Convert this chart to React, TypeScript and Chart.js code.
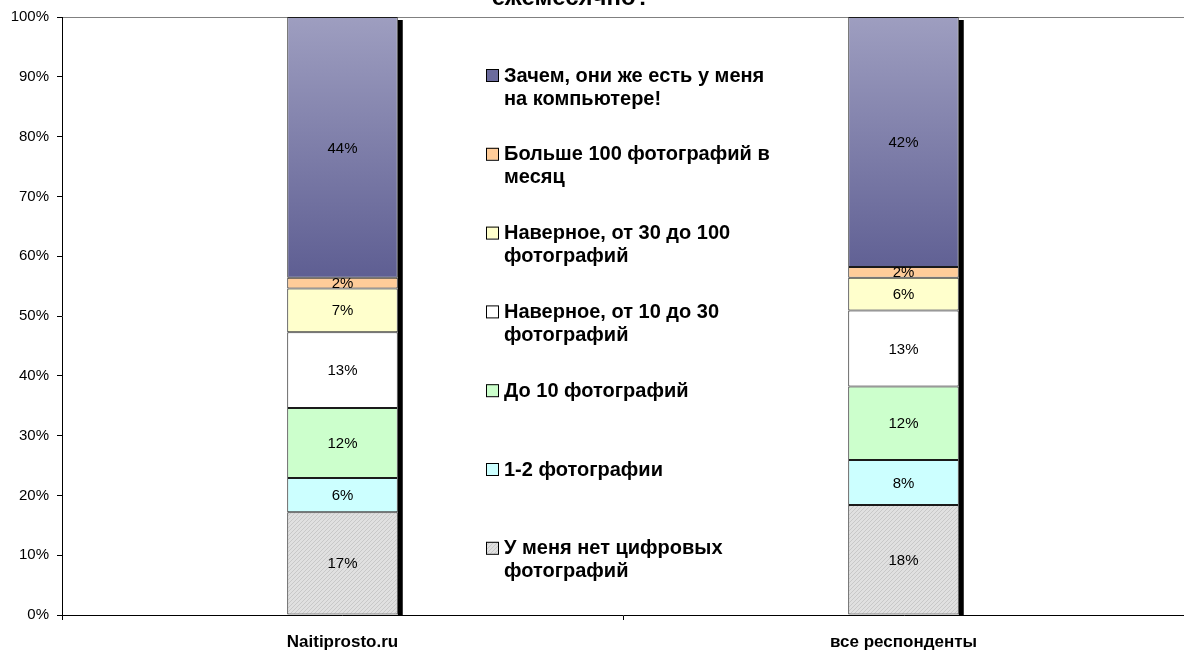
import React, { useEffect, useRef } from "react";
import { Chart, registerables } from "chart.js";
Chart.register(...registerables);

const categories = ["Naitiprosto.ru", "все респонденты"];
const titleText = "ежемесячно?";
const seriesLabels: string[][] = [
  ["У меня нет цифровых", "фотографий"],
  ["1-2 фотографии"],
  ["До 10 фотографий"],
  ["Наверное, от 10 до 30", "фотографий"],
  ["Наверное, от 30 до 100", "фотографий"],
  ["Больше 100 фотографий в", "месяц"],
  ["Зачем, они же есть у меня", "на компьютере!"],
];
const noPhotos = [17.2, 18.4];
const oneTwo = [5.7, 7.5];
const upTo10 = [11.7, 12.3];
const from10to30 = [12.7, 12.7];
const from30to100 = [7.3, 5.5];
const over100 = [1.8, 1.8];
const onComputer = [43.6, 41.8];
const seriesValues = [noPhotos, oneTwo, upTo10, from10to30, from30to100, over100, onComputer];
const seriesColors = ["#dcdcdc", "#ccffff", "#ccffcc", "#ffffff", "#ffffcc", "#ffcc99", "#6b6b9d"];

const FONT = "'Liberation Sans', Arial, sans-serif";

function makeHatch(ctx: CanvasRenderingContext2D) {
  const c = document.createElement("canvas");
  c.width = 4;
  c.height = 4;
  const g = c.getContext("2d")!;
  g.fillStyle = "#e0e0e0";
  g.fillRect(0, 0, 4, 4);
  g.fillStyle = "#c8c8c8";
  for (let i = 0; i < 4; i++) g.fillRect(i, 3 - i, 1, 1);
  return ctx.createPattern(c, "repeat");
}

export default function App() {
  const ref = useRef<HTMLCanvasElement | null>(null);
  useEffect(() => {
    const canvas = ref.current!;
    const ctx0 = canvas.getContext("2d")!;
    const hatch = makeHatch(ctx0);
    const topIdx = seriesValues.length - 1;

    const datasets = seriesValues.map((vals, i) => ({
      label: seriesLabels[i].join("\n"),
      data: vals,
      backgroundColor:
        i === 0
          ? hatch
          : i === topIdx
          ? (c: any) => {
              const chart = c.chart;
              const area = chart.chartArea;
              if (!area) return seriesColors[i];
              const g = chart.ctx.createLinearGradient(0, area.top, 0, chart.scales.y.getPixelForValue(57));
              g.addColorStop(0, "#9e9ec0");
              g.addColorStop(1, "#5f5f93");
              return g;
            }
          : seriesColors[i],
      borderColor: "#1a1a1a",
      borderWidth: 1,
      borderSkipped: false,
      categoryPercentage: 1,
      barPercentage: 0.197,
    }));

    const framePlugin = {
      id: "frame",
      beforeDraw(chart: any) {
        const { ctx, chartArea, width, height } = chart;
        ctx.save();
        ctx.fillStyle = "#fff";
        ctx.fillRect(0, 0, width, height);
        ctx.strokeStyle = "#808080";
        ctx.lineWidth = 1;
        ctx.beginPath();
        ctx.moveTo(chartArea.left, chartArea.top + 0.5);
        ctx.lineTo(chartArea.right, chartArea.top + 0.5);
        ctx.stroke();
        ctx.restore();
      },
    };

    const shadowPlugin = {
      id: "shadow",
      beforeDatasetsDraw(chart: any) {
        const { ctx } = chart;
        const meta = chart.getDatasetMeta(topIdx);
        const bottom = chart.scales.y.getPixelForValue(0);
        ctx.save();
        ctx.fillStyle = "#000";
        meta.data.forEach((el: any) => {
          const p = el.getProps(["x", "y", "width"], true);
          const x = p.x + p.width / 2;
          ctx.fillRect(x, p.y + 3, 5, bottom - p.y - 3);
        });
        ctx.restore();
      },
    };

    const labelPlugin = {
      id: "vlabels",
      afterDatasetsDraw(chart: any) {
        const { ctx } = chart;
        ctx.save();
        ctx.font = `15px ${FONT}`;
        ctx.fillStyle = "#000";
        ctx.textAlign = "center";
        ctx.textBaseline = "middle";
        chart.data.datasets.forEach((ds: any, di: number) => {
          const meta = chart.getDatasetMeta(di);
          meta.data.forEach((el: any, i: number) => {
            const p = el.getProps(["x", "y", "base"], true);
            ctx.fillText(Math.round(ds.data[i]) + "%", p.x, (p.y + p.base) / 2 + 1);
          });
        });
        ctx.restore();
      },
    };

    const legendPlugin = {
      id: "customLegend",
      afterDraw(chart: any) {
        const { ctx } = chart;
        const x0 = 486;
        const y0 = 75;
        const step = 78.8;
        const lineH = 23;
        ctx.save();
        ctx.font = `bold 20px ${FONT}`;
        ctx.textBaseline = "middle";
        ctx.textAlign = "left";
        const n = chart.data.datasets.length;
        for (let k = 0; k < n; k++) {
          const di = n - 1 - k;
          const ds = chart.data.datasets[di];
          const y = y0 + k * step;
          ctx.fillStyle = di === 0 ? hatch : seriesColors[di];
          ctx.fillRect(x0, y - 6, 12, 12);
          ctx.strokeStyle = "#000";
          ctx.lineWidth = 1;
          ctx.strokeRect(x0 + 0.5, y - 6 + 0.5, 12, 12);
          ctx.fillStyle = "#000";
          String(ds.label)
            .split("\n")
            .forEach((line: string, li: number) => {
              ctx.fillText(line, x0 + 18, y + li * lineH + 1);
            });
        }
        ctx.restore();
      },
    };

    const titlePlugin = {
      id: "cutTitle",
      afterDraw(chart: any) {
        const { ctx } = chart;
        ctx.save();
        ctx.font = `bold 24px ${FONT}`;
        ctx.fillStyle = "#000";
        ctx.textAlign = "center";
        ctx.textBaseline = "alphabetic";
        ctx.fillText(titleText, 571, 5);
        ctx.restore();
      },
    };

    const chart = new Chart(canvas, {
      type: "bar",
      data: { labels: categories, datasets: datasets as any },
      options: {
        responsive: false,
        animation: false,
        devicePixelRatio: 1,
        layout: { padding: { left: 0, top: 15, right: 0, bottom: 0 } },
        plugins: { legend: { display: false }, tooltip: { enabled: false }, title: { display: false } },
        scales: {
          x: {
            stacked: true,
            offset: true,
            grid: { offset: true, drawOnChartArea: false, drawTicks: true, tickLength: 5, color: "#000" },
            border: { display: true, color: "#000", width: 1 },
            ticks: { color: "#000", font: { family: FONT, size: 17, weight: "bold" }, padding: 12 },
            afterFit: (s: any) => {
              s.height = 37;
            },
          },
          y: {
            stacked: true,
            min: 0,
            max: 100,
            grid: { drawOnChartArea: false, drawTicks: true, tickLength: 5, color: "#000" },
            border: { display: true, color: "#000", width: 1 },
            ticks: {
              stepSize: 10,
              color: "#000",
              padding: 8,
              font: { family: FONT, size: 15 },
              callback: (v: any) => v + "%",
            },
            afterFit: (s: any) => {
              s.width = 62;
            },
          },
        },
      },
      plugins: [framePlugin, shadowPlugin, labelPlugin, legendPlugin, titlePlugin],
    });
    return () => chart.destroy();
  }, []);

  return (
    <div style={{ position: "fixed", left: 0, top: 0, width: 1184, height: 652, overflow: "hidden", background: "#fff" }}>
      <canvas ref={ref} width={1184} height={652} style={{ display: "block" }} />
    </div>
  );
}
